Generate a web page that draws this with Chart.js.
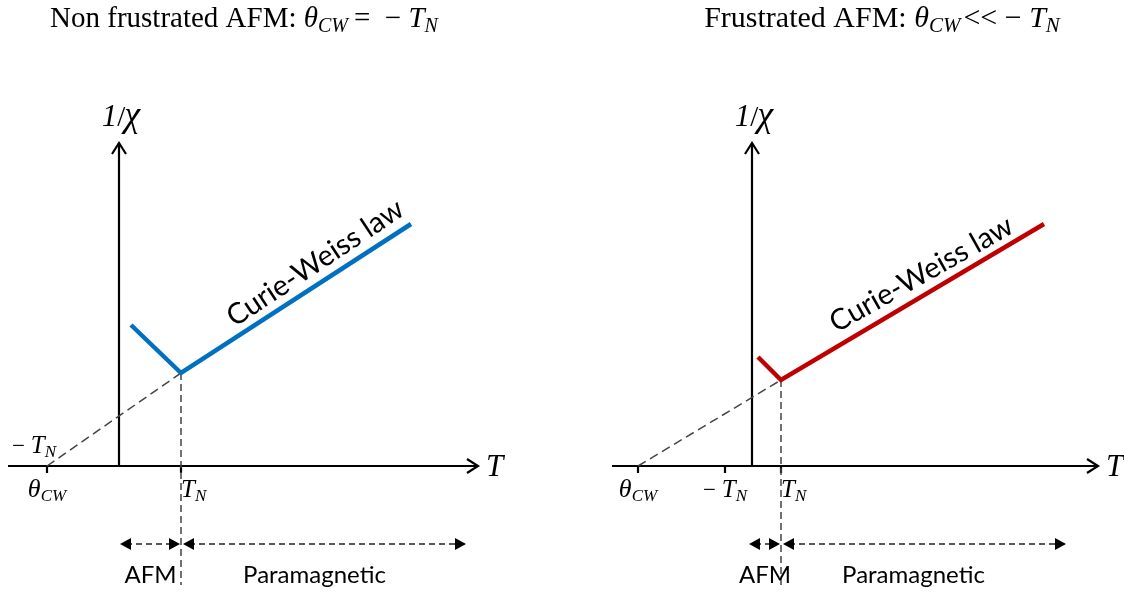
<!DOCTYPE html>
<html>
<head>
<meta charset="utf-8">
<title>Inverse susceptibility of frustrated and non frustrated antiferromagnets</title>
<script src="https://cdn.jsdelivr.net/npm/chart.js@4"></script>
<style>
  html, body { margin: 0; padding: 0; background: #fff; }
  #wrap { position: relative; width: 1124px; height: 592px; }
  canvas { position: absolute; top: 0; }
  #left { left: 0; }
  #right { left: 562px; }
</style>
</head>
<body>
<div id="wrap">
  <canvas id="left" width="562" height="592"></canvas>
  <canvas id="right" width="562" height="592"></canvas>
</div>
<script>
// Non frustrated AFM: 1/chi vs T (vertex sits at T_N)
const nfTemps = [1.2, 6.2, 29.2];
const nfInvChi = [14.1, 9.3, 24.2];
const nfThetaCW = -7.2;
const nfTN = 6.2;

// Frustrated AFM: theta_CW far below -T_N
const frTemps = [0.6, 2.9, 29.2];
const frInvChi = [10.9, 8.6, 24.2];
const frThetaCW = -11.4;
const frTN = 2.9;
const frMinusTN = -2.7;

const SERIF = '"Liberation Serif", "Times New Roman", serif';
const SANS = 'Lato, "Open Sans", sans-serif';

// draws text made of several runs (italic, subscripts, ...)
function drawRich(ctx, parts, x, y, align) {
    let w = 0;
    parts.forEach(p => { ctx.font = p.font; w += ctx.measureText(p.text).width + (p.gap || 0); });
    let cx = align === "center" ? x - w / 2 : align === "right" ? x - w : x;
    parts.forEach(p => {
        ctx.font = p.font;
        ctx.fillText(p.text, cx, y + (p.dy || 0));
        cx += ctx.measureText(p.text).width + (p.gap || 0);
    });
}

function it(size) { return "italic " + size + "px " + SERIF; }
function rm(size) { return size + "px " + SERIF; }

const thetaLabel = [{ text: "θ", font: it(26) }, { text: "CW", font: it(17), dy: 4 }];
const tnLabel = [{ text: "T", font: it(25) }, { text: "N", font: it(17), dy: 4 }];
const minusTnLabel = [{ text: "− ", font: rm(23) }].concat(tnLabel);

function arrowHead(ctx, x, y, angle, len, half, filled) {
    ctx.save();
    ctx.translate(x, y);
    ctx.rotate(angle);
    ctx.beginPath();
    ctx.moveTo(-len, -half);
    ctx.lineTo(0, 0);
    ctx.lineTo(-len, half);
    if (filled) {
        ctx.closePath();
        ctx.fill();
    } else {
        ctx.stroke();
    }
    ctx.restore();
}

function dashedArrow(ctx, x1, x2, y) {
    ctx.save();
    ctx.setLineDash([6, 4]);
    ctx.lineWidth = 1.5;
    ctx.strokeStyle = "#222";
    ctx.beginPath();
    ctx.moveTo(x1 + 6, y);
    ctx.lineTo(x2 - 6, y);
    ctx.stroke();
    ctx.setLineDash([]);
    arrowHead(ctx, x2, y, 0, 11, 6, true);
    arrowHead(ctx, x1, y, Math.PI, 11, 6, true);
    ctx.restore();
}

const diagramPlugin = {
    id: "diagram",
    beforeDatasetsDraw(chart, args, opts) {
        const ctx = chart.ctx;
        const xs = chart.scales.x, ys = chart.scales.y;
        const x0 = xs.getPixelForValue(0), y0 = ys.getPixelForValue(0);
        const xa = xs.getPixelForValue(opts.axisLeft), xb = xs.getPixelForValue(opts.axisRight);
        const yt = ys.getPixelForValue(opts.axisTop);
        ctx.save();
        ctx.strokeStyle = "#000";
        ctx.lineWidth = 2.2;
        // T axis
        ctx.beginPath();
        ctx.moveTo(xa, y0);
        ctx.lineTo(xb, y0);
        ctx.stroke();
        arrowHead(ctx, xb, y0, 0, 11, 7, false);
        // 1/chi axis
        ctx.beginPath();
        ctx.moveTo(x0, y0);
        ctx.lineTo(x0, yt);
        ctx.stroke();
        arrowHead(ctx, x0, yt, -Math.PI / 2, 11, 7, false);
        // tick marks
        opts.ticks.forEach(t => {
            const px = xs.getPixelForValue(t.value);
            ctx.beginPath();
            ctx.moveTo(px, y0);
            ctx.lineTo(px, y0 + 7);
            ctx.stroke();
        });
        ctx.restore();
    },
    afterDatasetsDraw(chart, args, opts) {
        const ctx = chart.ctx;
        const xs = chart.scales.x, ys = chart.scales.y;
        const x0 = xs.getPixelForValue(0), y0 = ys.getPixelForValue(0);
        ctx.save();
        ctx.fillStyle = "#000";
        ctx.textBaseline = "alphabetic";

        // title
        drawRich(ctx, opts.title, opts.titleX, 27, "center");

        // axis names
        ctx.font = it(31);
        ctx.textAlign = "left";
        ctx.fillText("T", xs.getPixelForValue(opts.axisRight) + 8, y0 + 10);
        drawRich(ctx, [
            { text: "1", font: it(31) },
            { text: "/", font: rm(29), gap: -1 },
            { text: "χ", font: it(36) }
        ], x0 + 2, 126, "center");

        // tick labels
        opts.ticks.forEach(t => {
            const px = xs.getPixelForValue(t.value);
            drawRich(ctx, t.label, px + (t.dx || 0), y0 + 31, t.align || "center");
        });
        if (opts.sideLabel) {
            drawRich(ctx, minusTnLabel, xs.getPixelForValue(opts.sideLabel.x), y0 - 13, "left");
        }

        // Curie-Weiss label along the high temperature branch
        const data = chart.data.datasets[0].data;
        const pA = { x: xs.getPixelForValue(data[1].x), y: ys.getPixelForValue(data[1].y) };
        const pB = { x: xs.getPixelForValue(data[2].x), y: ys.getPixelForValue(data[2].y) };
        const ang = Math.atan2(pB.y - pA.y, pB.x - pA.x);
        ctx.save();
        ctx.translate(pA.x + (pB.x - pA.x) * opts.cwAt, pA.y + (pB.y - pA.y) * opts.cwAt);
        ctx.rotate(ang + opts.cwTilt);
        ctx.font = "29px " + SANS;
        ctx.textAlign = "center";
        ctx.fillText("Curie-Weiss law", 0, -10);
        ctx.restore();

        // AFM / Paramagnetic ranges
        const tnPx = xs.getPixelForValue(opts.tn);
        const arrowY = ys.getPixelForValue(opts.rangeY);
        dashedArrow(ctx, xs.getPixelForValue(opts.afmFrom), tnPx - 1, arrowY);
        dashedArrow(ctx, tnPx + 2, xs.getPixelForValue(opts.paraTo), arrowY);
        ctx.font = "24px " + SANS;
        ctx.textAlign = "center";
        ctx.fillText("AFM", (xs.getPixelForValue(opts.afmFrom) + tnPx) / 2 + opts.afmDx, arrowY + 39);
        ctx.fillText("Paramagnetic", (tnPx + xs.getPixelForValue(opts.paraTo)) / 2 + opts.paraDx, arrowY + 39);
        ctx.restore();
    }
};

function makePanel(canvasId, temps, invChi, color, thetaCW, tn, xMin, extra) {
    const curve = temps.map((t, i) => ({ x: t, y: invChi[i] }));
    const vertex = curve[1];
    return new Chart(document.getElementById(canvasId), {
        type: "scatter",
        data: {
            datasets: [
                {
                    data: curve,
                    showLine: true,
                    borderColor: color,
                    borderWidth: 4.5,
                    pointRadius: 0,
                    borderJoinStyle: "miter"
                },
                {
                    // Curie-Weiss extrapolation down to theta_CW
                    data: [{ x: thetaCW, y: 0 }, vertex],
                    showLine: true,
                    borderColor: "#444",
                    borderWidth: 1.5,
                    borderDash: [9, 5],
                    pointRadius: 0
                },
                {
                    // T_N marker
                    data: [vertex, { x: tn, y: -11.9 }],
                    showLine: true,
                    borderColor: "#444",
                    borderWidth: 1.5,
                    borderDash: [7, 4],
                    pointRadius: 0
                }
            ]
        },
        options: {
            responsive: false,
            animation: false,
            events: [],
            layout: { padding: 0 },
            scales: {
                x: { type: "linear", display: false, min: xMin, max: xMin + 56.2 },
                y: { type: "linear", display: false, min: -12.6, max: 46.6 }
            },
            plugins: {
                legend: { display: false },
                tooltip: { enabled: false },
                diagram: Object.assign({ tn: tn, rangeY: -7.8 }, extra)
            }
        },
        plugins: [diagramPlugin]
    });
}

makePanel("left", nfTemps, nfInvChi, "#0070C0", nfThetaCW, nfTN, -11.9, {
    title: [
        { text: "Non frustrated AFM: ", font: rm(29) },
        { text: "θ", font: it(29) },
        { text: "CW", font: it(20), dy: 5, gap: 6 },
        { text: "=  − ", font: rm(29) },
        { text: "T", font: it(29) },
        { text: "N", font: it(20), dy: 5 }
    ],
    titleX: 244,
    axisLeft: -11.1, axisRight: 35.9, axisTop: 32.3,
    ticks: [
        { value: nfThetaCW, label: thetaLabel },
        { value: nfTN, label: tnLabel, align: "left", dx: 0 }
    ],
    sideLabel: { x: -10.7 },
    cwAt: 0.63, cwTilt: -0.01,
    afmFrom: 0.1, paraTo: 34.7,
    afmDx: 0, paraDx: -9
});

makePanel("right", frTemps, frInvChi, "#C00000", frThetaCW, frTN, -19.0, {
    title: [
        { text: "Frustrated AFM: ", font: rm(30) },
        { text: "θ", font: it(30) },
        { text: "CW", font: it(21), dy: 5, gap: 3 },
        { text: "<< − ", font: rm(30) },
        { text: "T", font: it(30) },
        { text: "N", font: it(21), dy: 5 }
    ],
    titleX: 320,
    axisLeft: -14.0, axisRight: 34.6, axisTop: 32.3,
    ticks: [
        { value: frThetaCW, label: thetaLabel },
        { value: frMinusTN, label: minusTnLabel },
        { value: frTN, label: tnLabel, align: "left", dx: 0 }
    ],
    cwAt: 0.57, cwTilt: 0.02,
    afmFrom: -0.3, paraTo: 31.4,
    afmDx: 0, paraDx: -10
});
</script>
</body>
</html>
